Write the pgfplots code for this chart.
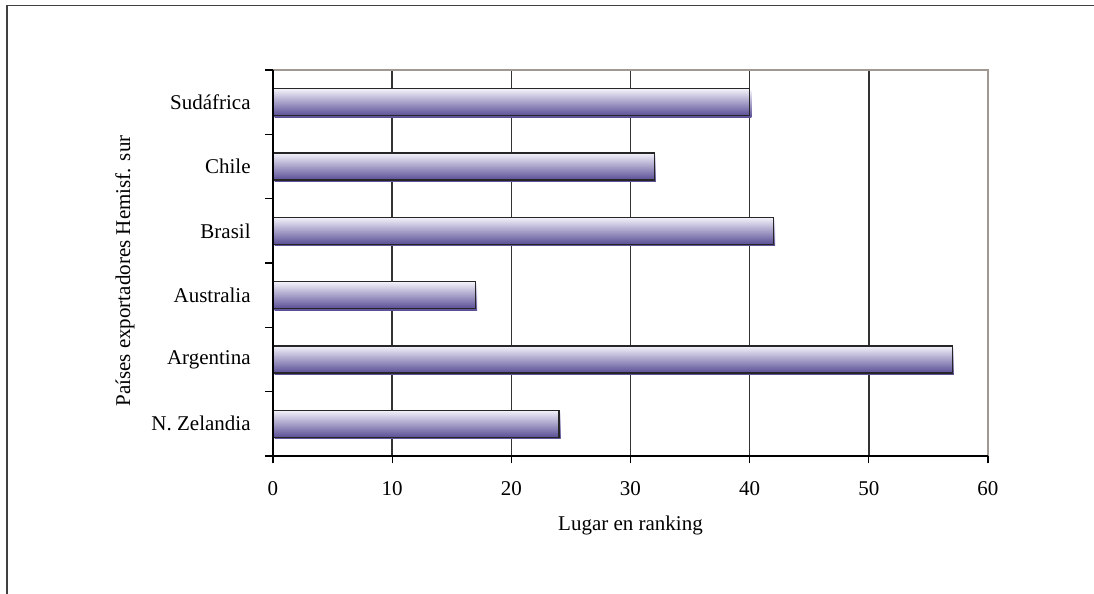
\documentclass[border=0pt]{standalone}
\usepackage{pgfplots}
\pgfplotsset{compat=1.18}
\usepackage{fontspec}
\setmainfont{Liberation Serif}
\definecolor{barTop}{RGB}{244,242,250}
\definecolor{barBot}{RGB}{88,78,150}
\definecolor{frameGray}{RGB}{64,64,64}
\definecolor{borderGray}{RGB}{160,152,146}
\pgfplotsset{gbar/.style={draw=black!85, line width=0.6pt, top color=barTop, bottom color=barBot, bar shift=0pt,
  preaction={fill=gray!55, draw=none, transform canvas={xshift=0.8pt, yshift=-0.8pt}}}}
\begin{document}
\begin{tikzpicture}
\useasboundingbox (-136.5pt,-69pt) rectangle (410.5pt,228pt);
\draw[frameGray, line width=0.75pt] (-133pt,-69pt) -- (-133pt,225.2pt) -- (410.5pt,225.2pt);
\begin{axis}[
  at={(0pt,0pt)}, anchor=south west,
  scale only axis,
  width=357.5pt, height=193pt,
  font=\fontsize{10.5}{12}\selectfont,
  xbar, bar width=0.42,
  xmin=0, xmax=60, ymin=-0.5, ymax=5.5,
  xtick={0,10,...,60},
  xtick pos=bottom, ytick pos=left,
  /pgf/number format/assume math mode=true,
  ytick={-0.5,0.5,...,5.5}, yticklabels={},
  extra y ticks={0,1,2,3,4,5},
  extra y tick labels={N. Zelandia,Argentina,Australia,Brasil,Chile,Sudáfrica},
  extra y tick style={major tick length=0pt, tick style={draw=none},
     yticklabel style={anchor=east, inner sep=0pt, xshift=-11pt}},
  tick align=outside, major tick length=3.75pt,
  tick style={black, line width=0.6pt},
  xticklabel style={inner sep=0pt, yshift=-8.75pt},
  xmajorgrids, y grid style={draw=none},
  x grid style={black!80, line width=0.75pt},
  axis line style={draw=none},
  clip=false,
  xlabel={Lugar en ranking},
  ylabel={Países exportadores Hemisf. sur},
  every axis x label/.style={at={(rel axis cs:0.5,0)}, yshift=-34.5pt, anchor=center},
  every axis y label/.style={at={(rel axis cs:0,0.5)}, xshift=-74pt, yshift=-4pt, rotate=90, anchor=center},
]
\addplot[gbar] coordinates {(24,0)};
\addplot[gbar] coordinates {(57,1)};
\addplot[gbar] coordinates {(17,2)};
\addplot[gbar] coordinates {(42,3)};
\addplot[gbar] coordinates {(32,4)};
\addplot[gbar] coordinates {(40,5)};
\draw[borderGray, line width=0.9pt] (rel axis cs:0,1) -- (rel axis cs:1,1) -- (rel axis cs:1,0);
\draw[black, line width=0.75pt] (rel axis cs:0,1) -- (rel axis cs:0,0) -- (rel axis cs:1,0);
\end{axis}
\end{tikzpicture}
\end{document}
